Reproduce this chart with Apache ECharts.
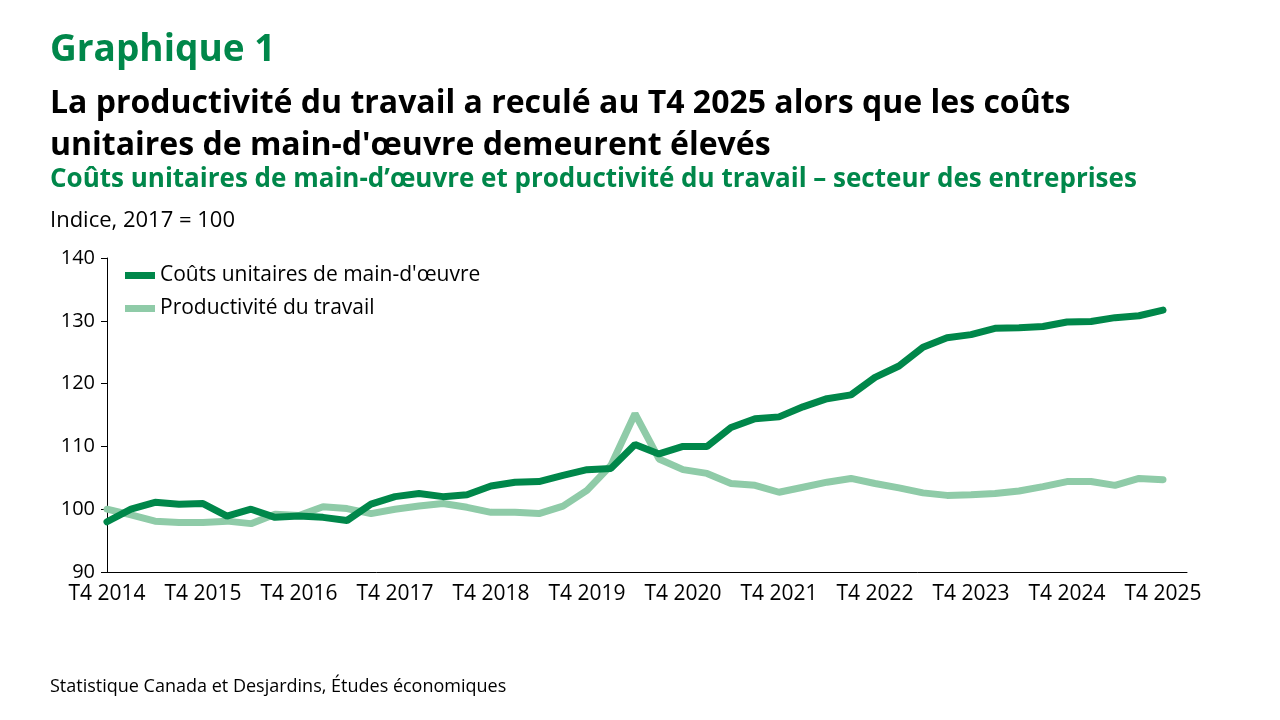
<!DOCTYPE html>
<html><head><meta charset="utf-8">
<script src="https://cdn.jsdelivr.net/npm/echarts@6/dist/echarts.min.js"></script>
<style>body{margin:0}#c{width:1280px;height:720px}</style></head>
<body><div id="c"></div>
<script>
const quarters=[];for(let y=2014;y<=2025;y++){for(let q=1;q<=4;q++){if(y===2014&&q<4)continue;quarters.push('T'+q+' '+y);}}
const coutsUnitaires=[98,100,101.1,100.8,100.9,98.9,100,98.7,98.9,98.7,98.2,100.8,102.0,102.5,102,102.3,103.7,104.3,104.4,105.4,106.3,106.5,110.3,108.8,110,110,113,114.4,114.7,116.3,117.6,118.2,121,122.8,125.8,127.3,127.8,128.8,128.9,129.1,129.8,129.9,130.5,130.8,131.7];
const productivite=[100,99.1,98.1,97.9,97.9,98.1,97.7,99.2,99.0,100.4,100.1,99.3,100.0,100.5,100.9,100.3,99.5,99.5,99.3,100.5,103.0,107.0,115.2,108.0,106.3,105.7,104.1,103.8,102.7,103.5,104.3,104.9,104.1,103.4,102.6,102.2,102.3,102.5,102.9,103.6,104.4,104.4,103.8,104.9,104.7];
const yTicks=[90,100,110,120,130,140];
const F='"Open Sans", sans-serif';
const ch=echarts.init(document.getElementById('c'));
ch.setOption({
 animation:false,
 title:[
  {text:'Graphique 1',left:45,top:27,textStyle:{fontFamily:F,fontSize:37,fontWeight:'bold',color:'#00874a'}},
  {text:"La productivité du travail a reculé au T4 2025 alors que les coûts\nunitaires de main-d'œuvre demeurent élevés",left:45,top:78,textStyle:{fontFamily:F,fontSize:32,fontWeight:'bold',color:'#000',lineHeight:42}},
  {text:'Coûts unitaires de main-d’œuvre et productivité du travail – secteur des entreprises',left:45,top:162,textStyle:{fontFamily:F,fontSize:26,fontWeight:'bold',color:'#00874a'}},
  {text:'Indice, 2017 = 100',left:45,top:205,textStyle:{fontFamily:F,fontSize:22,fontWeight:'normal',color:'#000'}},
  {text:'Statistique Canada et Desjardins, Études économiques',left:45,top:673,textStyle:{fontFamily:F,fontSize:18,fontWeight:'normal',color:'#000'}}
 ],
 legend:{orient:'vertical',left:120,top:260,itemGap:12,itemWidth:30,itemHeight:7,icon:'rect',textStyle:{fontFamily:F,fontSize:21,color:'#000'},
  data:["Coûts unitaires de main-d'œuvre",'Productivité du travail']},
 grid:{left:107,right:93,top:258,bottom:148},
 xAxis:{type:'value',min:0,max:45,interval:4,axisLine:{lineStyle:{color:'#000'}},axisTick:{show:false},splitLine:{show:false},
  axisLabel:{fontFamily:F,fontSize:21,color:'#000',margin:12,formatter:v=>v<quarters.length&&v%4===0?quarters[v]:''}},
 yAxis:{type:'value',min:yTicks[0],max:yTicks[yTicks.length-1],interval:10,axisLine:{show:true,lineStyle:{color:'#000'}},axisTick:{show:true,length:6,inside:false,lineStyle:{color:'#000'}},splitLine:{show:false},
  axisLabel:{fontFamily:F,fontSize:20,color:'#000',margin:12}},
 series:[
  {name:"Coûts unitaires de main-d'œuvre",type:'line',symbol:'none',lineStyle:{width:7,color:'#00874a',cap:'round'},itemStyle:{color:'#00874a'},data:coutsUnitaires.map((v,i)=>[i,v]),z:3},
  {name:'Productivité du travail',type:'line',symbol:'none',lineStyle:{width:7,color:'#8fcba8',cap:'round'},itemStyle:{color:'#8fcba8'},data:productivite.map((v,i)=>[i,v]),z:2}
 ]
});
</script></body></html>
